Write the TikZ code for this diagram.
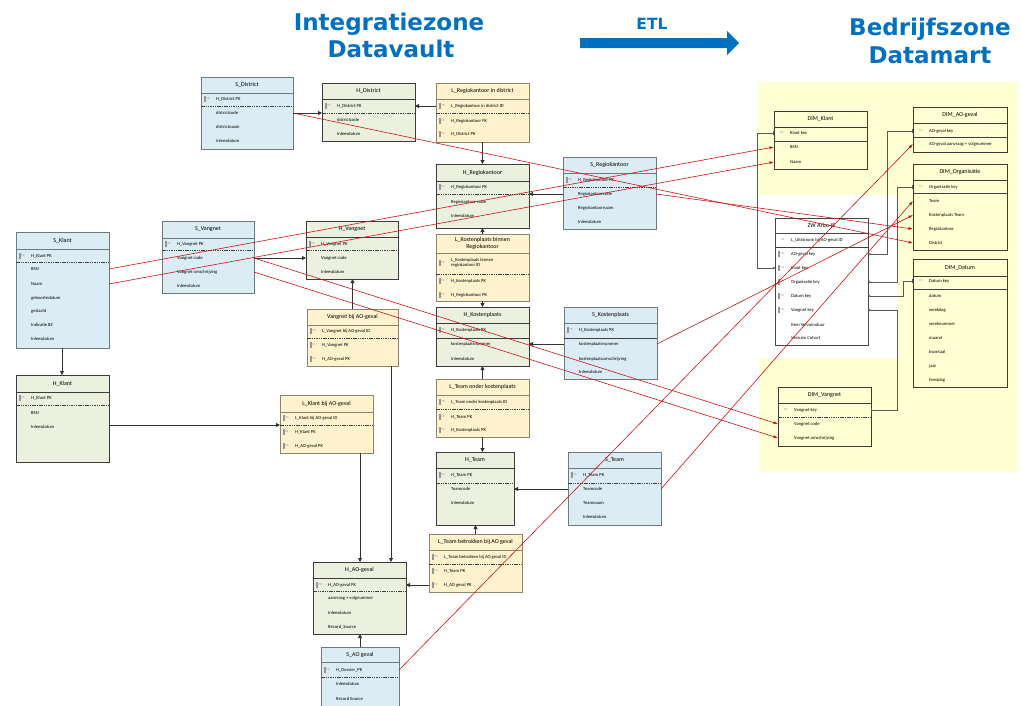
\documentclass[tikz,border=0pt]{standalone}
\usepackage{fontspec}
\setmainfont{Carlito}
\newfontfamily\headfont{DejaVu Sans}
\usetikzlibrary{arrows.meta,calc}
\definecolor{satboxfill}{RGB}{219,236,244}
\definecolor{satboxdraw}{RGB}{110,122,130}
\definecolor{hubboxfill}{RGB}{235,241,222}
\definecolor{hubboxdraw}{RGB}{60,60,60}
\definecolor{lnkboxfill}{RGB}{255,242,204}
\definecolor{lnkboxdraw}{RGB}{140,132,110}
\definecolor{dimboxfill}{RGB}{255,255,212}
\definecolor{dimboxdraw}{RGB}{60,60,50}
\definecolor{zwboxfill}{RGB}{255,255,255}
\definecolor{zwboxdraw}{RGB}{70,70,70}
\definecolor{bgyellow}{RGB}{255,255,212}
\definecolor{titleblue}{RGB}{0,112,192}
\definecolor{blkcol}{RGB}{50,50,50}
\definecolor{mapcol}{RGB}{205,20,20}
\definecolor{keyc}{RGB}{150,150,150}
\newcounter{tn}
\tikzset{
  ebase/.style={rectangle, inner sep=0pt, outer sep=0pt, line width=1pt},
  satbox/.style={ebase, fill=satboxfill, draw=satboxdraw},
  hubbox/.style={ebase, fill=hubboxfill, draw=hubboxdraw},
  lnkbox/.style={ebase, fill=lnkboxfill, draw=lnkboxdraw},
  dimbox/.style={ebase, fill=dimboxfill, draw=dimboxdraw},
  zwbox/.style={ebase, fill=zwboxfill, draw=zwboxdraw},
  ttl/.style={font=\fontsize{6}{6.6}\selectfont, inner sep=0pt, align=center},
  rowtxt/.style={font=\fontsize{4.6}{5.2}\selectfont, anchor=west, inner sep=0pt, align=left},
  keylbl/.style={font=\fontsize{3}{3}\selectfont, text=keyc, anchor=west, inner sep=0pt},
  sepc/.style={draw=black!75},
  blk/.style={draw=blkcol, line width=0.9pt, -{Triangle[length=4pt,width=4pt]}},
  dmline/.style={draw=black!65, line width=0.6pt, {Circle[open,length=2.6pt,width=2.6pt]}-{Bar[width=4pt]}},
  mapline/.style={draw=mapcol, line width=0.6pt, -{Latex[length=4.5pt,width=3pt]}},
  headtxt/.style={font=\headfont\bfseries\fontsize{23}{27}\selectfont, text=titleblue, anchor=base, inner sep=0pt},
}
\newcommand\ent[8]{%
  \node[#2, anchor=north west, minimum width={#5-#3}, minimum height={#6-#4}] (#1) at (#3,#4) {};
  \draw[line width=1pt, draw=#2draw] (#3,#7) -- (#5,#7);
  \stepcounter{tn}\node[ttl] (t\arabic{tn}) at ({(#3+#5)/2},{(#4+#7)/2}) {#8};}
\newcommand\sepd[3]{\draw[sepc, line width=0.6pt, dash pattern=on 1.5pt off 0.8pt] (#1,#3) -- (#2,#3);}
\newcommand\seps[3]{\draw[sepc, line width=0.8pt] (#1,#3) -- (#2,#3);}
\newcommand\kr[4]{%
  \fill[keyc] ({#1+3},{#2-3.2}) rectangle ({#1+4.6},{#2+3.2});
  \stepcounter{tn}\node[keylbl] (t\arabic{tn}) at ({#1+5.4},#2) {#3};
  \stepcounter{tn}\node[rowtxt] (t\arabic{tn}) at ({#1+15},#2) {#4};}
\newcommand\rw[3]{\stepcounter{tn}\node[rowtxt] (t\arabic{tn}) at ({#1+15},#2) {#3};}
\newcommand\dk[3]{%
  \stepcounter{tn}\node[keylbl] (t\arabic{tn}) at ({#1+6},#2) {PK};
  \stepcounter{tn}\node[rowtxt] (t\arabic{tn}) at ({#1+16},#2) {#3};}
\newcommand\dr[3]{\stepcounter{tn}\node[rowtxt] (t\arabic{tn}) at ({#1+16},#2) {#3};}
\newcommand\dfk[3]{%
  \fill[keyc] ({#1+3},{#2-3.2}) rectangle ({#1+4.6},{#2+3.2});
  \stepcounter{tn}\node[keylbl] (t\arabic{tn}) at ({#1+6},#2) {FK};
  \stepcounter{tn}\node[rowtxt] (t\arabic{tn}) at ({#1+16},#2) {#3};}
\begin{document}
\begin{tikzpicture}[x=1pt,y=-1pt]
\useasboundingbox (0,0) rectangle (1021,705);
% ---------- header ----------
\node[headtxt] (h1) at (389,30) {Integratiezone};
\node[headtxt] (h2) at (391,57) {Datavault};
\node[headtxt] (h3) at (930,35) {Bedrijfszone};
\node[headtxt] (h4) at (930,63) {Datamart};
\node[headtxt, font=\headfont\bfseries\fontsize{15.5}{18}\selectfont] (etl) at (652,29) {ETL};
\fill[titleblue] (580,38) -- (727,38) -- (727,31) -- (739,43) -- (727,55) -- (727,48) -- (580,48) -- cycle;
% ---------- datamart background ----------
\fill[bgyellow] (758,82) rectangle (1018,195);
\fill[bgyellow] (898,195) rectangle (1018,358);
\fill[bgyellow] (759,358) rectangle (1018,472);
% ---------- datavault entities ----------
\ent{SDistrict}{satbox}{201}{77}{293}{149}{93}{S\_District}
\kr{201}{99}{PK}{H\_District PK}
\sepd{201}{293}{106}
\rw{201}{113}{districtcode}
\rw{201}{127}{districtnaam}
\rw{201}{141}{inleesdatum}

\ent{HDistrict}{hubbox}{322}{83}{415}{141}{99}{H\_District}
\kr{322}{106}{PK}{H\_District PK}
\sepd{322}{415}{113}
\rw{322}{120}{districtcode}
\rw{322}{134}{Inleesdatum}

\ent{LRegDist}{lnkbox}{436}{83}{529}{142}{99}{L\_Regiokantoor in district}
\kr{436}{106}{PK}{L\_Regiokantoor in district ID}
\sepd{436}{529}{113}
\kr{436}{121}{FK}{H\_Regiokantoor PK}
\kr{436}{134}{FK}{H\_District PK}

\ent{HReg}{hubbox}{436}{164}{529}{228}{181}{H\_Regiokantoor}
\kr{436}{187}{PK}{H\_Regiokantoor PK}
\sepd{436}{529}{194}
\rw{436}{202}{Regiokantoor code}
\rw{436}{216}{Inleesdatum}

\ent{SReg}{satbox}{563}{157}{656}{229}{173}{S\_Regiokantoor}
\kr{563}{180}{PK}{H\_Regiokantoor PK}
\sepd{563}{656}{187}
\rw{563}{194}{Regiokantoorcode}
\rw{563}{208}{Regiokantoornaam}
\rw{563}{222}{Inleesdatum}

\ent{LKpReg}{lnkbox}{436}{234}{529}{301}{253}{L\_Kostenplaats binnen\\Regiokantoor}
\kr{436}{263}{PK}{L\_Kostenplaats binnen\\regiokantoor ID}
\sepd{436}{529}{274}
\kr{436}{281}{FK}{H\_Kostenplaats PK}
\kr{436}{295}{FK}{H\_Regiokantoor PK}

\ent{SKlant}{satbox}{16}{232}{109}{348}{249}{S\_Klant}
\kr{16}{256}{PK}{H\_Klant PK}
\sepd{16}{109}{262}
\rw{16}{269}{BSN}
\rw{16}{284}{Naam}
\rw{16}{298}{geboortedatum}
\rw{16}{311}{geslacht}
\rw{16}{325}{Indicatie BZ}
\rw{16}{339}{Inleesdatum}

\ent{SVang}{satbox}{162}{221}{254}{293}{238}{S\_Vangnet}
\kr{162}{244}{PK}{H\_Vangnet PK}
\sepd{162}{254}{250}
\rw{162}{258}{Vangnet code}
\rw{162}{272}{Vangnet omschrijving}
\rw{162}{286}{Inleesdatum}

\ent{HVang}{hubbox}{306}{221}{398}{279}{237}{H\_Vangnet}
\kr{306}{244}{PK}{H\_Vangnet PK}
\sepd{306}{398}{250}
\rw{306}{258}{Vangnet code}
\rw{306}{272}{Inleesdatum}

\ent{LVangAO}{lnkbox}{307}{309}{398}{366}{325}{Vangnet bij AO-geval}
\kr{307}{331}{PK}{L\_Vangnet bij AO-geval ID}
\sepd{307}{398}{338}
\kr{307}{345}{FK}{H\_Vangnet PK}
\kr{307}{359}{FK}{H\_AO-geval PK}

\ent{HKp}{hubbox}{436}{307}{529}{366}{323}{H\_Kostenplaats}
\kr{436}{330}{PK}{H\_Kostenplaats PK}
\seps{436}{529}{338}
\rw{436}{344}{kostenplaatsnummer}
\rw{436}{359}{Inleesdatum}

\ent{SKp}{satbox}{564}{307}{657}{379}{323}{S\_Kostenplaats}
\kr{564}{330}{PK}{H\_Kostenplaats PK}
\seps{564}{657}{338}
\rw{564}{344}{kostenplaatsnummer}
\rw{564}{359}{kostenplaatsomschrijving}
\rw{564}{372}{Inleesdatum}

\ent{LTeamKp}{lnkbox}{436}{379}{529}{437}{395}{L\_Team onder kostenplaats}
\kr{436}{402}{PK}{L\_Team onder kostenplaats ID}
\sepd{436}{529}{409}
\kr{436}{417}{FK}{H\_Team PK}
\kr{436}{430}{FK}{H\_Kostenplaats PK}

\ent{HKlant}{hubbox}{16}{375}{109}{462}{392}{H\_Klant}
\kr{16}{398}{PK}{H\_Klant PK}
\sepd{16}{109}{405}
\rw{16}{413}{BSN}
\rw{16}{427}{Inleesdatum}

\ent{LKlantAO}{lnkbox}{280}{395}{373}{453}{412}{L\_Klant bij AO-geval}
\kr{280}{418}{PK}{L\_Klant bij AO-geval ID}
\sepd{280}{373}{425}
\kr{280}{432}{FK}{H\_Klant PK}
\kr{280}{446}{FK}{H\_AO-geval PK}

\ent{HTeam}{hubbox}{436}{452}{514}{525}{468}{H\_Team}
\kr{436}{475}{PK}{H\_Team PK}
\sepd{436}{514}{483}
\rw{436}{489}{Teamcode}
\rw{436}{503}{Inleesdatum}

\ent{STeam}{satbox}{568}{452}{661}{525}{468}{S\_Team}
\kr{568}{475}{PK}{H\_Team PK}
\sepd{568}{661}{483}
\rw{568}{489}{Teamcode}
\rw{568}{503}{Teamnaam}
\rw{568}{517}{Inleesdatum}

\ent{LTeamAO}{lnkbox}{429}{534}{522}{592}{550}{L\_Team betrokken bij AO geval}
\kr{429}{557}{PK}{L\_Team betrokken bij AO geval ID}
\sepd{429}{522}{564}
\kr{429}{571}{FK}{H\_Team PK}
\kr{429}{585}{FK}{H\_AO geval PK}

\ent{HAO}{hubbox}{313}{562}{406}{634}{578}{H\_AO-geval}
\kr{313}{585}{PK}{H\_AO-geval PK}
\sepd{313}{406}{591}
\rw{313}{598}{aanvraag + volgnummer}
\rw{313}{613}{Inleesdatum}
\rw{313}{627}{Record\_Source}

\ent{SAO}{satbox}{321}{647}{399}{715}{662}{S\_AO geval}
\kr{321}{670}{PK}{H\_Dossier\_PK}
\sepd{321}{399}{677}
\rw{321}{684}{Inleesdatum}
\rw{321}{699}{Record Source}

% ---------- datamart entities ----------
\ent{DimKlant}{dimbox}{774}{111}{867}{169}{127}{DIM\_Klant}
\dk{774}{133}{Klant key}
\seps{774}{867}{141}
\dr{774}{147}{BSN}
\dr{774}{162}{Naam}

\ent{DimAO}{dimbox}{913}{107}{1007}{152}{123}{DIM\_AO-geval}
\dk{913}{131}{AO-geval key}
\seps{913}{1007}{137}
\dr{913}{144}{AO-geval aanvraag + volgnummer}

\ent{DimOrg}{dimbox}{913}{164}{1007}{250}{180}{DIM\_Organisatie}
\dk{913}{187}{Organisatie key}
\seps{913}{1007}{193}
\dr{913}{201}{Team}
\dr{913}{215}{Kostenplaats Team}
\dr{913}{229}{Regiokantoor}
\dr{913}{243}{District}

\ent{ZW}{zwbox}{775}{218}{868}{345}{233}{ZW Arbo-IE}
\dk{775}{240}{L\_Uitstroom bij AO-geval ID}
\seps{775}{868}{247}
\dfk{775}{254}{AO-geval key}
\dfk{775}{268}{Klant key}
\dfk{775}{282}{Organisatie key}
\dfk{775}{296}{Datum key}
\dfk{775}{310}{Vangnet key}
\dr{775}{325}{Item Verzuimduur}
\dr{775}{338}{Verzuim Cohort}

\ent{DimDatum}{dimbox}{913}{259}{1007}{387}{276}{DIM\_Datum}
\dk{913}{281}{Datum key}
\seps{913}{1007}{289}
\dr{913}{296}{datum}
\dr{913}{310}{weekdag}
\dr{913}{324}{weeknummer}
\dr{913}{338}{maand}
\dr{913}{352}{kwartaal}
\dr{913}{366}{jaar}
\dr{913}{380}{feestdag}

\ent{DimVang}{dimbox}{778}{387}{871}{446}{403}{DIM\_Vangnet}
\dk{778}{410}{Vangnet key}
\sepd{778}{871}{417}
\dr{778}{424}{Vangnet code}
\dr{778}{438}{Vangnet omschrijving}

% ---------- datavault connectors ----------
\draw[blk] (SDistrict.east |- 0,113) -- (HDistrict.west |- 0,113);
\draw[blk] (LRegDist.west |- 0,106) -- (HDistrict.east |- 0,106);
\draw[blk] (LRegDist.south) -- (HReg.north);
\draw[blk] (SReg.west |- 0,194) -- (HReg.east |- 0,194);
\draw[blk] (LKpReg.north) -- (HReg.south);
\draw[blk] (LKpReg.south) -- (HKp.north);
\draw[blk] (SKp.west |- 0,344) -- (HKp.east |- 0,344);
\draw[blk] (LTeamKp.north) -- (HKp.south);
\draw[blk] (LTeamKp.south) -- (LTeamKp.south |- HTeam.north);
\draw[blk] (STeam.west |- 0,489) -- (HTeam.east |- 0,489);
\draw[blk] (LTeamAO.north) -- (LTeamAO.north |- HTeam.south);
\draw[blk] (LTeamAO.west |- 0,585) -- (HAO.east |- 0,585);
\draw[blk] (SVang.east |- 0,258) -- (HVang.west |- 0,258);
\draw[blk] (LVangAO.north) -- (LVangAO.north |- HVang.south);
\draw[blk] (LVangAO.south -| 391,0) -- (HAO.north -| 391,0);
\draw[blk] (LKlantAO.south -| 360,0) -- (HAO.north -| 360,0);
\draw[blk] (SKlant.south -| 62,0) -- (HKlant.north -| 62,0);
\draw[blk] (HKlant.east |- 0,425) -- (LKlantAO.west |- 0,425);
\draw[blk] (SAO.north) -- (SAO.north |- HAO.south);

% ---------- datamart connectors ----------
\draw[dmline] (ZW.west |- 0,268) -| (757,133) -- (DimKlant.west |- 0,133);
\draw[dmline] (ZW.east |- 0,254) -| (887,131) -- (DimAO.west |- 0,131);
\draw[dmline] (ZW.east |- 0,282) -| (897,187) -- (DimOrg.west |- 0,187);
\draw[dmline] (ZW.east |- 0,296) -| (903,281) -- (DimDatum.west |- 0,281);
\draw[dmline] (ZW.east |- 0,310) -| (897,410) -- (DimVang.east |- 0,410);

% ---------- mapping lines ----------
\draw[mapline] (SKlant.east |- 0,269) -- (DimKlant.west |- 0,147);
\draw[mapline] (SKlant.east |- 0,284) -- (DimKlant.west |- 0,162);
\draw[mapline] (SVang.east |- 0,258) -- (DimVang.west |- 0,424);
\draw[mapline] (SVang.east |- 0,272) -- (DimVang.west |- 0,438);
\draw[mapline] (SDistrict.east |- 0,113) -- (DimOrg.west |- 0,243);
\draw[mapline] (SReg.east |- 0,194) -- (DimOrg.west |- 0,229);
\draw[mapline] (SKp.east |- 0,344) -- (DimOrg.west |- 0,215);
\draw[mapline] (STeam.east |- 0,489) -- (DimOrg.west |- 0,201);
\draw[mapline] (SAO.east |- 0,670) -- (DimAO.west |- 0,144);
\end{tikzpicture}
\end{document}
